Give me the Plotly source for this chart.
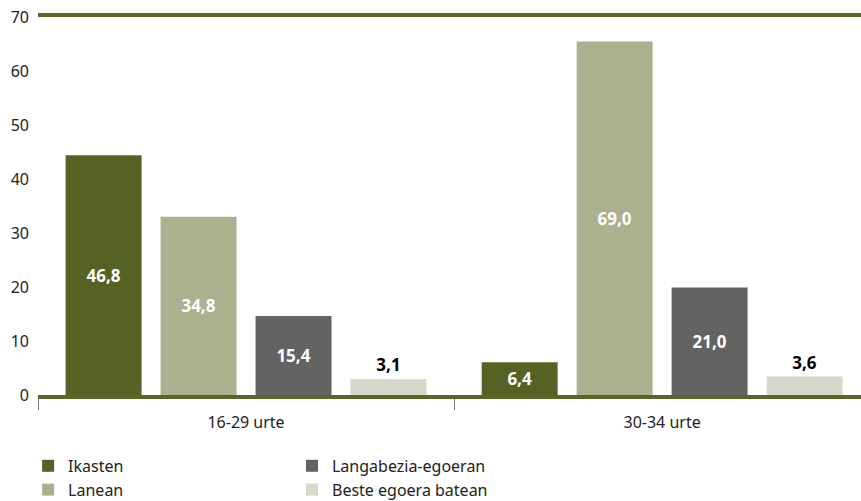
import plotly.graph_objects as go

groups = ["16-29 urte", "30-34 urte"]
series = ["Ikasten", "Lanean", "Langabezia-egoeran", "Beste egoera batean"]
ikasten = [46.8, 6.4]
lanean = [34.8, 69.0]
langabezia = [15.4, 21.0]
beste = [3.1, 3.6]
y_ticks = [0, 10, 20, 30, 40, 50, 60, 70]

colors = ["#566224", "#abb08e", "#636363", "#d5d9c9"]
legends = ["legend", "legend", "legend2", "legend2"]  # two legend columns
olive = "#5a6526"
font = "Noto Sans"

fig = go.Figure()
for name, vals, col, leg in zip(series, [ikasten, lanean, langabezia, beste], colors, legends):
    fig.add_trace(go.Bar(
        x=groups, y=vals, name=name, marker_color=col, marker_line_width=0,
        legend=leg,
        text=[f"{v:.1f}".replace(".", ",") for v in vals],
        textposition=["outside" if v < 5 else "inside" for v in vals],
        insidetextanchor="middle",
        insidetextfont=dict(color="white", size=17, family=font, weight="bold"),
        outsidetextfont=dict(color="black", size=17, family=font, weight="bold"),
        textangle=0, cliponaxis=False,
    ))

# empty trace so the tick-label axis is drawn
fig.add_trace(go.Scatter(x=[], y=[], yaxis="y2", showlegend=False, hoverinfo="skip"))

leg_style = dict(orientation="v", yanchor="top", xanchor="left",
                 xref="paper", yref="container", y=0.104,
                 font=dict(size=16, color="#222"), bgcolor="rgba(0,0,0,0)",
                 tracegroupgap=0)

fig.update_layout(
    width=861, height=501,
    margin=dict(l=38, r=0, t=17, b=106),
    paper_bgcolor="white", plot_bgcolor="white",
    font=dict(family=font, size=16, color="#222"),
    barmode="group", bargap=0.087, bargroupgap=0.2,
    showlegend=True,
    legend=dict(x=-0.012, **leg_style),
    legend2=dict(x=0.3086, **leg_style),
    xaxis=dict(range=[-0.5, 1.478], showline=True, linewidth=4, linecolor=olive,
               mirror=True, ticks="outside", tickson="boundaries", ticklen=11,
               tickcolor="#777", tickwidth=1, showgrid=False,
               ticklabelstandoff=10, tickfont=dict(size=16)),
    yaxis=dict(range=[0, 73.8], showticklabels=False, showgrid=False, zeroline=False,
               ticks=""),
    yaxis2=dict(overlaying="y", side="left", range=[0, 70.05], tickvals=y_ticks,
                showgrid=False, zeroline=False, showline=False, ticks="",
                ticklabelstandoff=8, tickfont=dict(size=16)),
)

# drop the page's default body margin so the figure sits at the window corner
fig.write_html("out.html", config={"displayModeBar": False},
               post_script="document.body.style.margin = '0';")
